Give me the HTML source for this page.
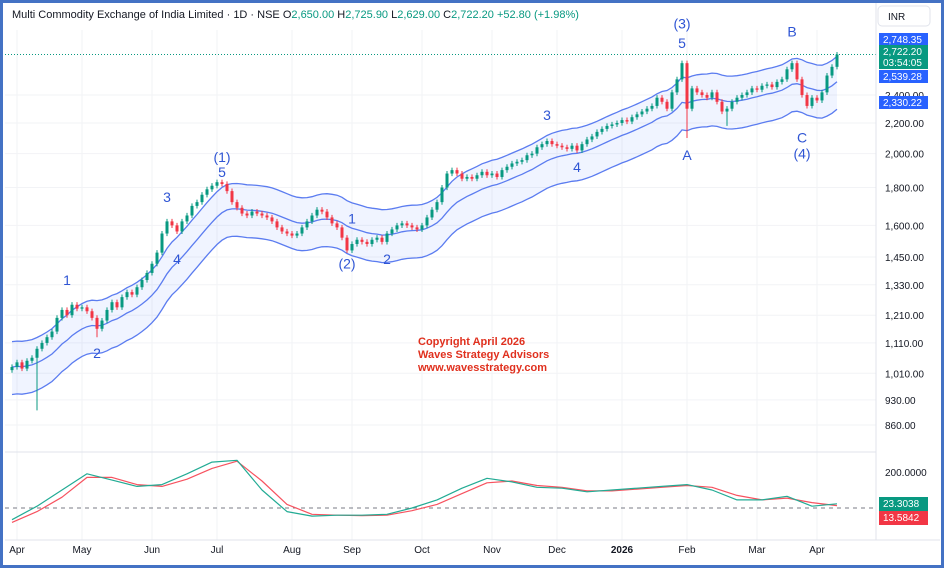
<!DOCTYPE html>
<html><head><meta charset="utf-8">
<style>
html,body{margin:0;padding:0;background:#fff;}
body{width:944px;height:568px;overflow:hidden;font-family:"Liberation Sans",sans-serif;}
svg{display:block}
</style></head>
<body>
<svg id="chart" width="944" height="568" viewBox="0 0 944 568">
<rect x="1.5" y="1.5" width="941" height="565" fill="#fff" stroke="#4472c4" stroke-width="3"/>
<g id="grid"></g>
<g id="bands"></g>
<g id="candles"></g>
<g id="osc"></g>
<line x1="5" y1="452" x2="876" y2="452" stroke="#e0e3eb"/>
<line x1="876" y1="3" x2="876" y2="540" stroke="#e0e3eb"/>
<line x1="5" y1="540" x2="940" y2="540" stroke="#e0e3eb"/>
<text x="12" y="18" font-size="11" fill="#131722">Multi Commodity Exchange of India Limited · 1D · NSE <tspan fill="#131722">O</tspan><tspan fill="#089981">2,650.00</tspan> <tspan fill="#131722">H</tspan><tspan fill="#089981">2,725.90</tspan> <tspan fill="#131722">L</tspan><tspan fill="#089981">2,629.00</tspan> <tspan fill="#131722">C</tspan><tspan fill="#089981">2,722.20 +52.80 (+1.98%)</tspan></text>
<rect x="878" y="6" width="52" height="20" rx="4" fill="#fff" stroke="#e0e3eb"/>
<text x="888" y="20" font-size="10" fill="#131722">INR</text>
<g id="yaxis"></g>
<g id="xaxis"></g>
<g id="waves" font-size="14" fill="#2f55d4"></g>
<g font-size="11" font-weight="bold" fill="#e0301e">
<text x="418" y="345">Copyright April 2026</text>
<text x="418" y="358">Waves Strategy Advisors</text>
<text x="418" y="371">www.wavesstrategy.com</text>
</g>
</svg>
<script>
// ---- data ----
const closes = [1030,1045,1025,1050,1060,1090,1110,1130,1150,1200,1230,1210,1250,1235,1240,1225,1200,1160,1190,1230,1260,1240,1280,1300,1290,1320,1350,1380,1420,1470,1560,1620,1600,1570,1620,1650,1700,1720,1760,1790,1810,1830,1820,1780,1720,1690,1660,1650,1670,1660,1650,1640,1620,1590,1570,1560,1550,1560,1590,1620,1650,1680,1670,1640,1610,1590,1540,1480,1510,1530,1520,1510,1530,1540,1520,1560,1580,1600,1610,1600,1590,1580,1600,1640,1680,1720,1800,1880,1900,1880,1850,1860,1850,1870,1890,1870,1880,1860,1900,1920,1940,1950,1960,1990,2000,2040,2060,2080,2060,2050,2040,2030,2050,2020,2060,2090,2110,2140,2160,2180,2190,2200,2220,2210,2240,2260,2280,2300,2320,2380,2350,2300,2420,2520,2650,2300,2450,2420,2400,2380,2420,2350,2280,2300,2350,2380,2400,2420,2450,2440,2470,2480,2460,2500,2520,2600,2650,2520,2400,2320,2380,2360,2420,2550,2620,2722];
const firstOpen = 1020;
const spikeIdx = [5,17,135,143];
const spikeLow = [900,1130,2100,2180];
const oscMacd = [-65,10,100,190,155,120,130,190,255,265,100,-20,-45,-40,-40,-35,0,45,110,165,145,115,110,90,100,110,120,130,100,45,45,65,10,23.3];
const oscSignal = [-80,-20,60,170,170,130,120,160,220,260,150,20,-35,-40,-42,-40,-15,20,80,140,150,125,115,95,95,105,115,125,115,70,45,55,30,13.6];
const priceTicks = [2400,2200,2000,1800,1600,1450,1330,1210,1110,1010,930,860];
const monthLabels = ["Apr","May","Jun","Jul","Aug","Sep","Oct","Nov","Dec","2026","Feb","Mar","Apr"];
const monthIdx = [1,14,28,41,56,68,82,96,109,122,135,149,161];
const waveLabels = ["1","2","3","4","(1)","5","1","(2)","2","3","4","(3)","5","A","B","C","(4)"];
const waveIdx = [11,17,31,33,42,42,68,67,75,107,113,134,134,135,156,158,158];
const wavePrice = [1330,1060,1720,1420,1950,1860,1610,1400,1420,2220,1890,2950,2780,1960,2880,2070,1970];

// ---- scales ----
const NS="http://www.w3.org/2000/svg";
const xOf = i => 12 + i*5;
const yOf = p => 123 - 321.5*Math.log(p/2200);
const yOsc = v => 508 - v*0.18;
const oscX = k => 12 + k*25;
function mk(tag, attrs, parent){const e=document.createElementNS(NS,tag);for(const k in attrs)e.setAttribute(k,attrs[k]);parent.appendChild(e);return e;}
const G = id => document.getElementById(id);

// grid
monthIdx.forEach(i=>{
  const l=mk('line',{x1:xOf(i),x2:xOf(i),y1:30,y2:540,stroke:'#f2f3f6'},G('grid'));
  
  
});
priceTicks.forEach(p=>{
  const l=mk('line',{x1:5,x2:876,y1:yOf(p),y2:yOf(p),stroke:'#f2f3f6'},G('grid'));
  
  
});

// bands (EMA of closes, +/-8.2%)
const mid=[];let e=closes[0];
closes.forEach((c,i)=>{e = i===0?c: e + (c-e)*2/16; mid.push(e);});
const up=mid.map(m=>m*1.082), lo=mid.map(m=>m*0.918);
const pts=a=>a.map((v,i)=>xOf(i)+','+yOf(v).toFixed(1)).join(' ');
const fill=mk('polygon',{points:pts(up)+' '+lo.map((v,i)=>[xOf(i),yOf(v).toFixed(1)]).reverse().map(p=>p.join(',')).join(' '),fill:'#2962ff',opacity:0.07},G('bands'));


[[up,'upper-band'],[mid,'middle-band'],[lo,'lower-band']].forEach(([a,n])=>{
  const pl=mk('polyline',{points:pts(a),fill:'none',stroke:'#5b7cf0','stroke-width':1.3},G('bands'));
  
  
});
const lp=mk('line',{x1:5,x2:876,y1:yOf(closes[closes.length-1]),y2:yOf(closes[closes.length-1]),stroke:'#089981','stroke-dasharray':'1,2'},G('bands'));



// candles
closes.forEach((c,i)=>{
  const o = i===0?firstOpen:closes[i-1];
  let hi=Math.max(o,c)*1.008, lw=Math.min(o,c)*0.992;
  const s=spikeIdx.indexOf(i); if(s>=0) lw=spikeLow[s];
  const col=c>=o?'#089981':'#f23645';
  const g=mk('g',{},G('candles'));
  
  
  mk('line',{x1:xOf(i),x2:xOf(i),y1:yOf(hi),y2:yOf(lw),stroke:col,'stroke-width':1},g);
  const yt=yOf(Math.max(o,c)), yb=yOf(Math.min(o,c));
  mk('rect',{x:xOf(i)-1.5,y:yt,width:3,height:Math.max(1,yb-yt),fill:col},g);
});

// oscillator
const zl=mk('line',{x1:5,x2:876,y1:yOsc(0),y2:yOsc(0),stroke:'#787b86','stroke-dasharray':'4,4'},G('osc'));


[[oscSignal,'#f7525f','osc-signal-line'],[oscMacd,'#22ab94','osc-main-line']].forEach(([a,c,n])=>{
  const pl=mk('polyline',{points:a.map((v,k)=>oscX(k)+','+yOsc(v).toFixed(1)).join(' '),fill:'none',stroke:c,'stroke-width':1.2,'stroke-linejoin':'round'},G('osc'));
  
  
});

// y-axis labels
priceTicks.forEach(p=>{
  const t=mk('text',{x:885,y:yOf(p)+4,'font-size':10,fill:'#131722'},G('yaxis'));
  t.textContent=p.toLocaleString('en-US',{minimumFractionDigits:2});
  
  
});
const t2=mk('text',{x:885,y:yOsc(200)+4,'font-size':10,fill:'#131722'},G('yaxis'));
t2.textContent='200.0000';


function tag(y,h,col,lines,name){
  const g=mk('g',{},G('yaxis'));
  
  
  mk('rect',{x:879,y:y,width:49,height:h,fill:col},g);
  lines.forEach((s,k)=>{const t=mk('text',{x:883,y:y+10+k*11,'font-size':10,fill:'#fff'},g);t.textContent=s;});
}
tag(33,12,'#2962ff',['2,748.35'],'upper-band-tag');
tag(45,24,'#089981',['2,722.20','03:54:05'],'last-price-tag');
tag(70,13,'#2962ff',['2,539.28'],'middle-band-tag');
tag(96,13,'#2962ff',['2,330.22'],'lower-band-tag');
tag(497,14,'#089981',['23.3038'],'osc-main-tag');
tag(511,14,'#f23645',['13.5842'],'osc-signal-tag');

// x-axis labels
monthLabels.forEach((m,k)=>{
  const t=mk('text',{x:xOf(monthIdx[k]),y:553,'font-size':10,fill:'#131722','text-anchor':'middle','font-weight':m==='2026'?'bold':'normal'},G('xaxis'));
  t.textContent=m;
  
  
});

// wave labels
waveLabels.forEach((w,k)=>{
  const t=mk('text',{x:xOf(waveIdx[k]),y:yOf(wavePrice[k]),'text-anchor':'middle'},G('waves'));
  t.textContent=w;
  
  
});
</script>
</body></html>
